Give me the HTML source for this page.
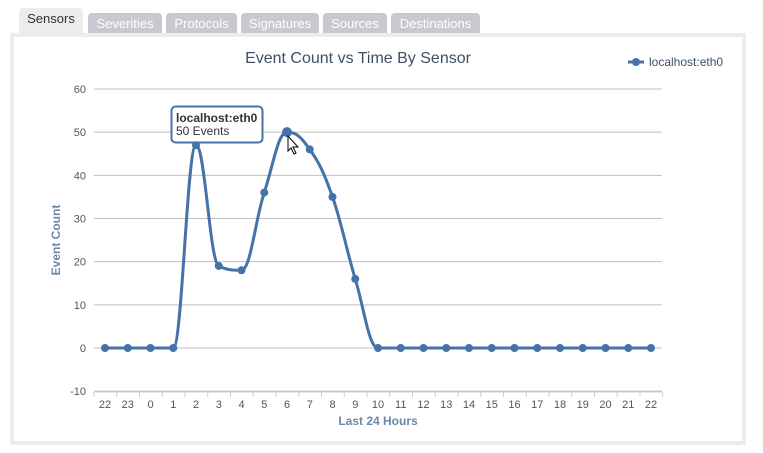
<!DOCTYPE html>
<html><head><style>
body{margin:0;background:#fff;width:763px;height:453px;overflow:hidden;font-family:"Liberation Sans",sans-serif;position:relative}
.tab{position:absolute;top:13px;height:20px;background:#c8c9ce;color:#fff;font-size:13px;line-height:22px;text-align:center;border-radius:4px 4px 0 0}
.tab.a{top:8px;height:25px;background:#ececec;color:#333;line-height:22px}
.panel{position:absolute;left:10px;top:33px;width:736px;height:412px;background:#ececec}
.inner{position:absolute;left:14px;top:37px;width:728px;height:404px;background:#fff}
</style></head><body>
<div class="tab a" style="left:19px;width:64px">Sensors</div>
<div class="tab" style="left:88px;width:74px">Severities</div>
<div class="tab" style="left:166px;width:71px">Protocols</div>
<div class="tab" style="left:241px;width:78px">Signatures</div>
<div class="tab" style="left:323px;width:64px">Sources</div>
<div class="tab" style="left:391px;width:89px">Destinations</div>
<div class="panel"></div><div class="inner"></div>
<svg id="s" width="763" height="453" style="position:absolute;left:0;top:0" font-family="Liberation Sans, sans-serif"></svg>
<script>
var s=document.getElementById('s'),h='';
function Y(v){return 348-v*4.317;}
h+='<text x="358" y="63" font-size="16" fill="#3e4f66" text-anchor="middle">Event Count vs Time By Sensor</text>';
for(var v=-10;v<=60;v+=10){var y=Y(v);h+='<line x1="94" x2="662" y1="'+y+'" y2="'+y+'" stroke="#c0c0c0"/>';
h+='<text x="86" y="'+(y+4)+'" font-size="11" fill="#555" text-anchor="end">'+v+'</text>';}
var labs=[22,23,0,1,2,3,4,5,6,7,8,9,10,11,12,13,14,15,16,17,18,19,20,21,22];
var vals=[0,0,0,0,47,19,18,36,50,46,35,16,0,0,0,0,0,0,0,0,0,0,0,0,0];
var st=22.75;
h+='<line x1="94" x2="662" y1="392" y2="392" stroke="#c0d0e0"/>';
for(var i=0;i<=25;i++){var x=94+i*st;h+='<line x1="'+x+'" x2="'+x+'" y1="392" y2="397" stroke="#c0d0e0"/>';}
var P=[];for(var i=0;i<25;i++){var x=105+i*st;P.push([x,Y(vals[i])]);h+='<text x="'+x+'" y="408" font-size="11" fill="#555" text-anchor="middle">'+labs[i]+'</text>';}
h+='<text x="378" y="425" font-size="12" font-weight="bold" fill="#6d87a8" text-anchor="middle">Last 24 Hours</text>';
h+='<text transform="translate(60,240) rotate(-90)" font-size="12" font-weight="bold" fill="#6d87a8" text-anchor="middle">Event Count</text>';
// highcharts spline control points
var L=[],R=[];
for(var i=0;i<25;i++){var p=P[i];
 if(i==0||i==24){L[i]=[p[0],p[1]];R[i]=[p[0],p[1]];continue;}
 var a=P[i-1],b=P[i+1],sm=1.5,dn=2.5;
 var lx=(sm*p[0]+a[0])/dn,ly=(sm*p[1]+a[1])/dn,rx=(sm*p[0]+b[0])/dn,ry=(sm*p[1]+b[1])/dn;
 if(rx!==lx){var c=((ry-ly)*(rx-p[0]))/(rx-lx)+p[1]-ry;ly+=c;ry+=c;
  if(ly>a[1]&&ly>p[1]){ly=Math.max(a[1],p[1]);ry=2*p[1]-ly;}else if(ly<a[1]&&ly<p[1]){ly=Math.min(a[1],p[1]);ry=2*p[1]-ly;}
  if(ry>b[1]&&ry>p[1]){ry=Math.max(b[1],p[1]);ly=2*p[1]-ry;}else if(ry<b[1]&&ry<p[1]){ry=Math.min(b[1],p[1]);ly=2*p[1]-ry;}
 }
 L[i]=[lx,ly];R[i]=[rx,ry];}
var d='M'+P[0][0]+' '+P[0][1];
for(var i=0;i<24;i++){d+=' C'+R[i][0]+' '+R[i][1]+' '+L[i+1][0]+' '+L[i+1][1]+' '+P[i+1][0]+' '+P[i+1][1];}
h+='<path d="'+d+'" fill="none" stroke="#4572a7" stroke-width="3" stroke-linejoin="round"/>';
P.forEach(function(p,i){h+='<circle cx="'+p[0]+'" cy="'+p[1]+'" r="'+(i==8?5:4)+'" fill="#4572a7"/>';});
h+='<rect x="171.5" y="106.5" width="91" height="36" rx="4" fill="#fff" stroke="#4572a7" stroke-width="2"/>';
h+='<text x="176" y="122" font-size="12" font-weight="bold" fill="#333">localhost:eth0</text><text x="176" y="135" font-size="12" fill="#333">50 Events</text>';
h+='<path d="M288 136 L288 151 L291 148 L294 154 L296 153 L293 147 L298 147 Z" fill="#fff" stroke="#000" stroke-width="1"/>';
h+='<line x1="628" x2="644" y1="62" y2="62" stroke="#4572a7" stroke-width="3"/><circle cx="636" cy="62" r="4" fill="#4572a7"/>';
h+='<text x="649" y="66" font-size="12" fill="#3e4f66">localhost:eth0</text>';
s.innerHTML=h;
</script>
</body></html>
